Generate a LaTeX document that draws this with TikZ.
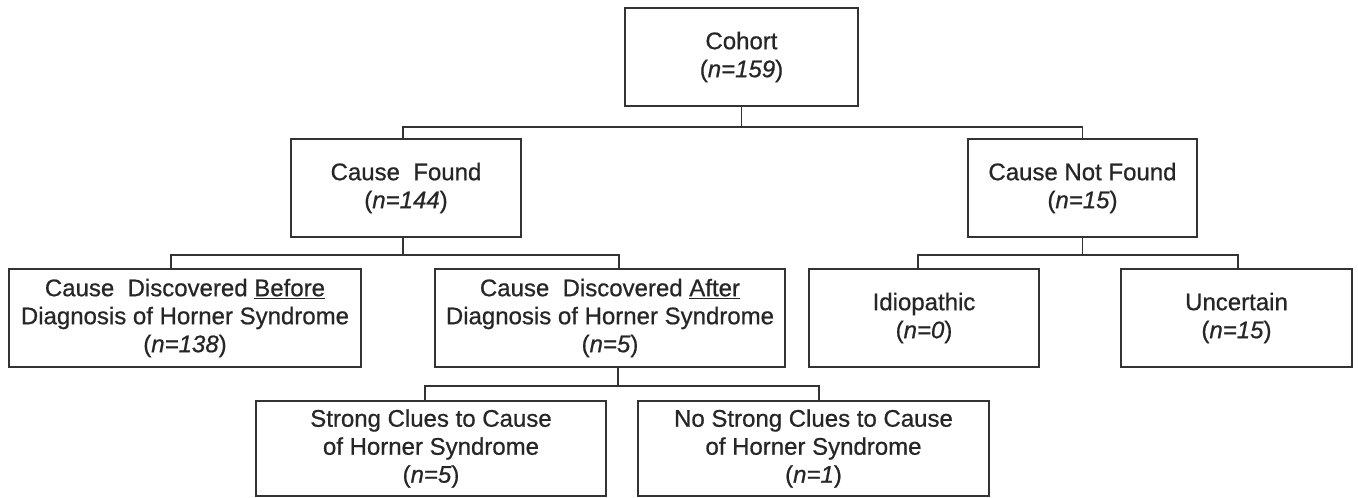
\documentclass[tikz,border=0pt]{standalone}
\usepackage{fontspec}
\setmainfont{Liberation Sans}
\newfontfamily\boxfont[FakeBold=0.7]{Liberation Sans}
\begin{document}
\begin{tikzpicture}[x=1pt,y=-1pt,
  box/.style={draw=black!80, line width=1.7pt, align=center, inner sep=0pt,
    text=black!85, font=\boxfont\fontsize{24}{28}\selectfont},
  conn/.style={draw=black!80, line width=1.7pt}]
\useasboundingbox (0,0) rectangle (1358,498);
% level 0
\node[box, minimum width=233pt, minimum height=98pt] (cohort) at (741.5,57) {Cohort\\(\textit{n=159})};
% level 1
\node[box, minimum width=230pt, minimum height=98pt] (found) at (406,188) {Cause\ \ Found\\(\textit{n=144})};
\node[box, minimum width=229pt, minimum height=98pt] (notfound) at (1082.5,188) {Cause Not Found\\(\textit{n=15})};
% level 2
\node[box, minimum width=352pt, minimum height=98pt] (before) at (185,318) {Cause\ \ Discovered \underline{Before}\\Diagnosis of Horner Syndrome\\(\textit{n=138})};
\node[box, minimum width=350pt, minimum height=98pt] (after) at (610,318) {Cause\ \ Discovered \underline{After}\\Diagnosis of Horner Syndrome\\(\textit{n=5})};
\node[box, minimum width=230pt, minimum height=98pt] (idio) at (924,318) {Idiopathic\\(\textit{n=0})};
\node[box, minimum width=231pt, minimum height=98pt] (uncert) at (1236.5,318) {Uncertain\\(\textit{n=15})};
% level 3
\node[box, minimum width=350pt, minimum height=95pt] (strong) at (431,448.5) {Strong Clues to Cause\\of Horner Syndrome\\(\textit{n=5})};
\node[box, minimum width=351pt, minimum height=95pt] (nostrong) at (813.5,448.5) {No Strong Clues to Cause\\of Horner Syndrome\\(\textit{n=1})};
% junctions
\coordinate (j0) at (741.5,127);
\coordinate (j1) at (403,255);
\coordinate (j2) at (1082.5,255);
\coordinate (j3) at (618,386);
% connectors
\draw[conn] (cohort.south) -- (j0);
\draw[conn] ([xshift=-3pt]found.north) |- (j0) -| (notfound.north);
\draw[conn] ([xshift=-3pt]found.south) -- (j1);
\draw[conn] ([xshift=-14pt]before.north) |- (j1) -| ([xshift=9pt]after.north);
\draw[conn] (notfound.south) -- (j2);
\draw[conn] ([xshift=-6pt]idio.north) |- (j2) -| ([xshift=1.5pt]uncert.north);
\draw[conn] ([xshift=8pt]after.south) -- (j3);
\draw[conn] ([xshift=-6pt]strong.north) |- (j3) -| ([xshift=5.5pt]nostrong.north);
\end{tikzpicture}
\end{document}
